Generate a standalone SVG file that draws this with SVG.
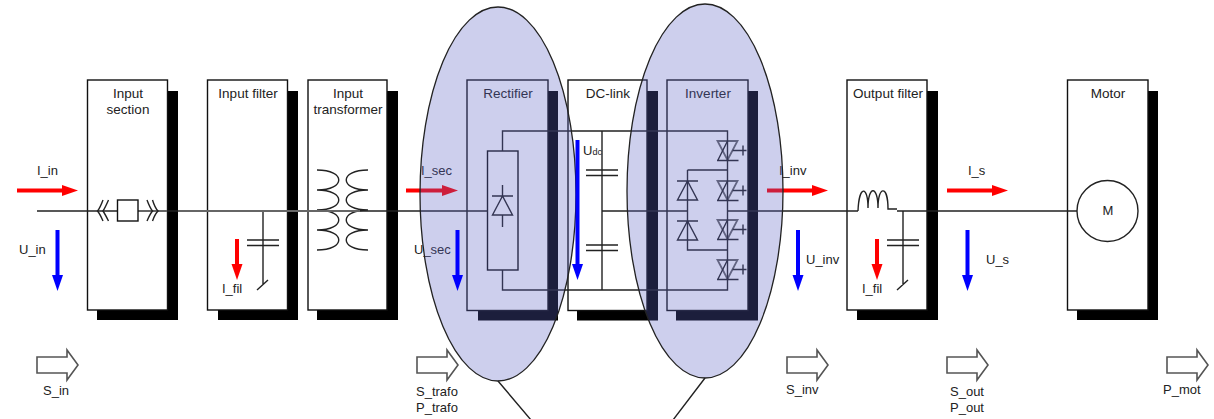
<svg xmlns="http://www.w3.org/2000/svg" xmlns:xlink="http://www.w3.org/1999/xlink" width="1214" height="419" viewBox="0 0 1214 419">
<style>
text{font-family:"Liberation Sans",Arial,sans-serif;font-size:13px;fill:#222}
.m{text-anchor:middle}
.t{font-size:13.500px}
.box{fill:#fff;stroke:#111;stroke-width:1.4}
.sh{fill:#000}
.w{fill:none;stroke:#222;stroke-width:1.4}
.g{fill:none;stroke:#666;stroke-width:1.8}
.red{fill:none;stroke:#f00;stroke-width:4}
.blue{fill:none;stroke:#00f;stroke-width:4}
.pw{fill:#fff;stroke:#555;stroke-width:1.6}
.ell{fill:#5b62c4;fill-opacity:.306;stroke:none}
.elo{fill:none;stroke:#222;stroke-width:1.3}
</style>
<defs>
<marker id="hr" markerUnits="userSpaceOnUse" markerWidth="17" markerHeight="12" refX="0" refY="6" orient="auto"><path d="M0,.5L16,6L0,11.5z" fill="#f00"/></marker>
<marker id="hb" markerUnits="userSpaceOnUse" markerWidth="17" markerHeight="12" refX="0" refY="6" orient="auto"><path d="M0,.5L16,6L0,11.5z" fill="#00f"/></marker>
<g id="diode"><path class="w" d="M-10.500,0H10.500M0,0L-10,19H10z"/></g>
<g id="thy"><path class="g" d="M-10,0H10L0,19z"/><path class="w" d="M0,0L-9.500,19M-10.500,19.500H11M5,9.500H19M15.500,4.500V14.500"/></g>
<path id="pa" class="pw" d="M0,7H30V0L41,15L30,30V23H0z"/>
</defs>

<g id="input-section">
<path class="sh" d="M167,91H178V320H97V310H167z"/>
<rect class="box" x="87.500" y="80" width="80" height="230"/>
<text class="m t" x="128" y="97.500">Input</text><text class="m t" x="128" y="113.500">section</text>
</g>
<g id="input-filter">
<path class="sh" d="M287,91H298V320H218V310H287z"/>
<rect class="box" x="207.500" y="80" width="80" height="230"/>
<text class="m t" x="248" y="97.500">Input filter</text>
<path class="w" d="M263,211V285M247,240H279M247,245.500H279M257,290L268,280"/>
</g>
<g id="input-transformer">
<path class="sh" d="M387,91H398V320H317V310H387z"/>
<rect class="box" x="308" y="80" width="79" height="230"/>
<text class="m t" x="348" y="97.500">Input</text><text class="m t" x="348" y="113.500">transformer</text>
<path class="w" d="M317,170C346,170 346,190 317,190C346,190 346,210 317,210C346,210 346,230 317,230C346,230 346,250 317,250M368,170C339,170 339,190 368,190C339,190 339,210 368,210C339,210 339,230 368,230C339,230 339,250 368,250"/>
</g>
<g id="rectifier">
<path class="sh" d="M548,91H558V320.500H478V311H548z"/>
<rect class="box" x="467" y="80" width="81" height="230.500"/>
<text class="m t" x="508" y="97.500">Rectifier</text>
<rect class="box" x="487.500" y="151" width="30.500" height="119"/>
<path class="w" d="M502.500,185V196M502.500,215V227"/><use xlink:href="#diode" href="#diode" x="502.500" y="196"/>
</g>
<g id="dc-link">
<path class="sh" d="M647,91H658V320.500H577V311H647z"/>
<rect class="box" x="568" y="80" width="79" height="230.500"/>
<text class="m t" x="608" y="97.500">DC-link</text>
<path class="w" d="M586,170H618M586,175.500H618M586,245H618M586,250.500H618"/>
<text x="583" y="155">U<tspan font-size="9">dc</tspan></text>
</g>
<g id="inverter">
<path class="sh" d="M748,91H758V320.500H676V311H748z"/>
<rect class="box" x="667" y="80" width="81" height="230.500"/>
<text class="m t" x="708" y="97.500">Inverter</text>
<use xlink:href="#diode" href="#diode" x="687.500" y="181"/><use xlink:href="#diode" href="#diode" x="687.500" y="221"/>
<use xlink:href="#thy" href="#thy" x="727.500" y="141"/><use xlink:href="#thy" href="#thy" x="727.500" y="181"/><use xlink:href="#thy" href="#thy" x="727.500" y="220"/><use xlink:href="#thy" href="#thy" x="727.500" y="260"/>
</g>
<g id="output-filter">
<path class="sh" d="M927,91H938V320H857V310H927z"/>
<rect class="box" x="847" y="80" width="80" height="230"/>
<text class="m t" x="888" y="97.500">Output filter</text>
<path class="w" d="M858,211C859,185 868,185 868,208C868,185 878,185 878,208C878,185 888,185 888,209H897M903,211V285M887,240H919M887,245.500H919M897,290L908,280"/>
</g>
<g id="motor">
<path class="sh" d="M1148,91H1158V320H1077V310H1148z"/>
<rect class="box" x="1067.500" y="80" width="80.500" height="230"/>
<text class="m t" x="1108" y="97.500">Motor</text>
<circle cx="1107.500" cy="211" r="30.500" fill="#fff" stroke="#222" stroke-width="1.400"/>
<text class="m" x="1108" y="215">M</text>
</g>

<g id="connectors">
<path class="w" d="M37,211H117M138,211H487.500M602,211H687.500M727.500,211H858M897,211H1077"/>
<path class="g" d="M138,211H167M178,211H360"/>
<path class="w" d="M502.500,151V131H727.500V290H502.500V270M602,131V290M687.500,170H727.500M687.500,170V250H727.500"/>
<path class="red" marker-end="url(#hr)" d="M17,190.500H62"/>
<path class="red" marker-end="url(#hr)" d="M406,190.500H442"/>
<path class="red" marker-end="url(#hr)" d="M767,190.500H812"/>
<path class="red" marker-end="url(#hr)" d="M947,190.500H992"/>
<path class="red" marker-end="url(#hr)" d="M237,239V264"/>
<path class="red" marker-end="url(#hr)" d="M877,239V264"/>
<path class="w" d="M498,381L531,420M705,378L673,420"/>
<rect class="box" x="117.500" y="200" width="20.500" height="21"/>
<path class="w" d="M103,200Q100,208 97.500,211Q100,214 103,221M108.500,200Q105,208 103,211Q105,214 108.500,221M147,200Q150,208 152.500,211Q150,214 147,221M152.500,200Q155,208 158,211Q155,214 152.500,221"/>
</g>

<g id="labels">
<text x="37" y="175">I_in</text><text x="19" y="254">U_in</text>
<text x="222" y="293">I_fil</text>
<text x="421" y="175">I_sec</text><text x="414" y="254">U_sec</text>
<text x="779" y="175">I_inv</text><text x="806" y="264">U_inv</text>
<text x="968" y="175">I_s</text><text x="986" y="264">U_s</text>
<text x="862" y="293">I_fil</text>
<text x="43" y="395">S_in</text>
<text x="416" y="396">S_trafo</text><text x="416" y="412">P_trafo</text>
<text x="786" y="394">S_inv</text>
<text x="950" y="396">S_out</text><text x="950" y="412">P_out</text>
<text x="1163" y="394">P_mot</text>
</g>
<g id="power-arrows">
<use xlink:href="#pa" href="#pa" x="37" y="350"/><use xlink:href="#pa" href="#pa" x="417" y="350"/><use xlink:href="#pa" href="#pa" x="787" y="350"/><use xlink:href="#pa" href="#pa" x="947" y="350"/><use xlink:href="#pa" href="#pa" x="1167" y="350"/>
</g>

<g id="rectifier-highlight"><ellipse class="ell" cx="498" cy="194" rx="78" ry="187"/><ellipse class="elo" cx="498" cy="194" rx="78" ry="187"/></g>
<g id="inverter-highlight"><ellipse class="ell" cx="705" cy="191" rx="78" ry="187"/><ellipse class="elo" cx="705" cy="191" rx="78" ry="187"/></g>

<g id="voltage-arrows">
<path class="blue" marker-end="url(#hb)" d="M57.500,230V275"/>
<path class="blue" marker-end="url(#hb)" d="M457.500,230V275"/>
<path class="blue" marker-end="url(#hb)" d="M577.500,140V264"/>
<path class="blue" marker-end="url(#hb)" d="M798,230V275"/>
<path class="blue" marker-end="url(#hb)" d="M967.500,230V275"/>
</g>
</svg>
